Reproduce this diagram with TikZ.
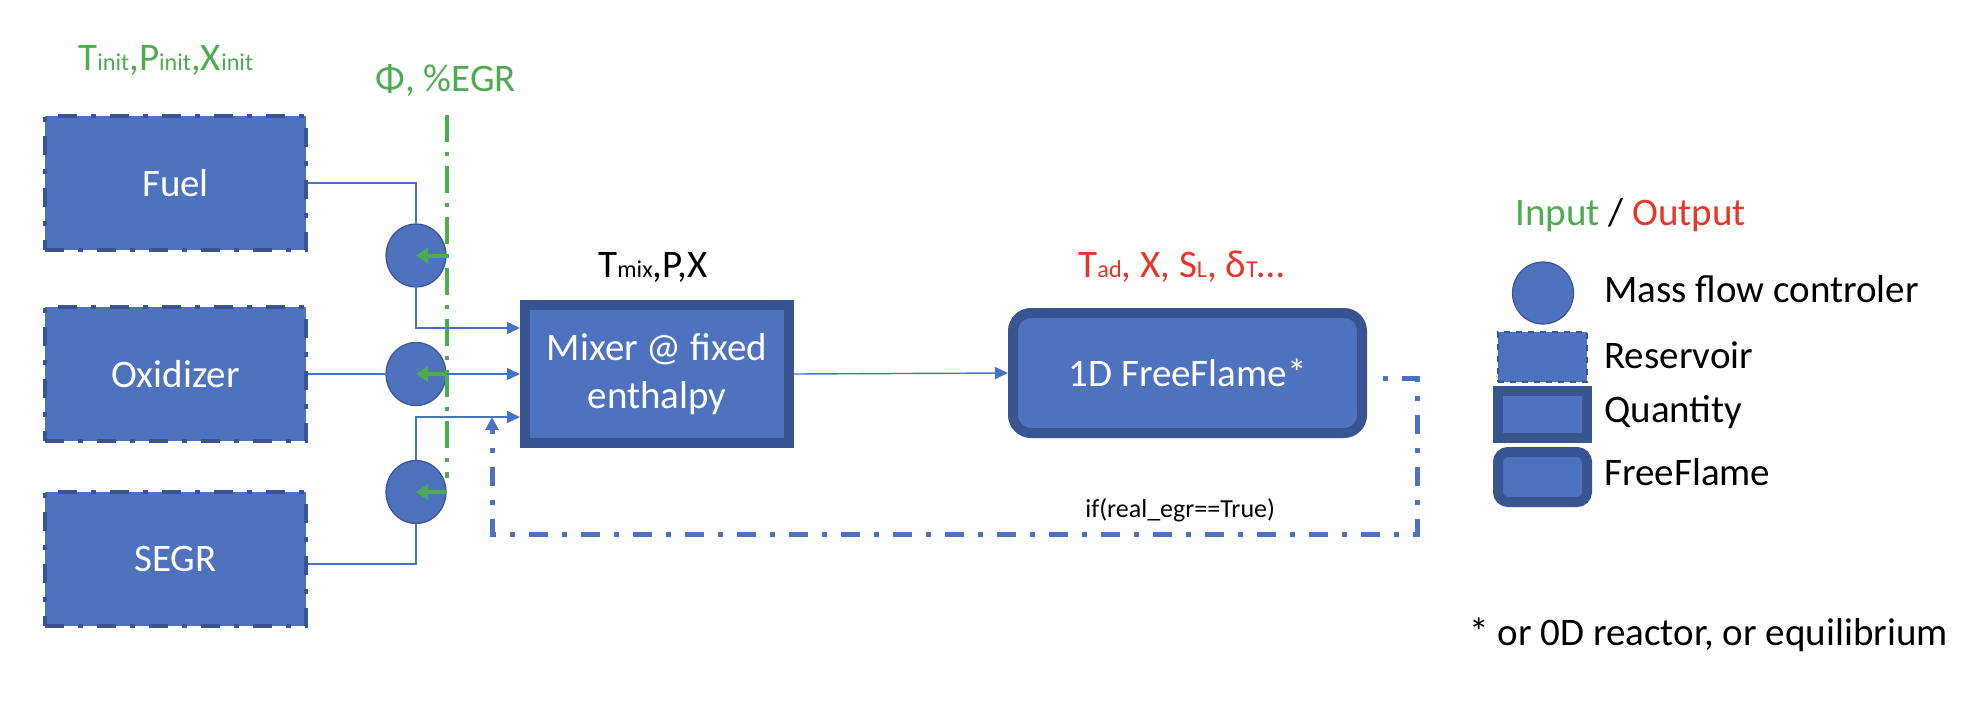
\documentclass[tikz,border=0pt]{standalone}
\usepackage{fontspec}
\setmainfont{Carlito}
\usepackage{graphicx}
\usetikzlibrary{arrows.meta,shapes.geometric}
\definecolor{boxfill}{HTML}{4F72BE}
\definecolor{boxline}{HTML}{385491}
\definecolor{conn}{HTML}{4472C4}
\definecolor{ingreen}{HTML}{4EAC50}
\definecolor{outred}{HTML}{E8352A}
\newcommand{\sbt}[1]{\scalebox{0.62}{#1}}
\begin{document}
\begin{tikzpicture}[x=0.5pt,y=-0.5pt,
  dashdotpat/.style={dash pattern=on 9.5pt off 7pt on 2.5pt off 7pt},
  mainfont/.style={font=\fontsize{19.5}{24}\selectfont},
  reservoir/.style={rectangle, fill=boxfill, draw=boxline, line width=2pt, dashdotpat,
    minimum width=130.5pt, minimum height=67pt, inner sep=0pt, text=white, mainfont},
  quantity/.style={rectangle, fill=boxfill, draw=boxline, line width=5pt,
    minimum width=132pt, minimum height=69pt, inner sep=0pt, text=white, mainfont, align=center},
  flame/.style={rectangle, rounded corners=9pt, fill=boxfill, draw=boxline, line width=5pt,
    minimum width=174.5pt, minimum height=60pt, inner sep=0pt, text=white, mainfont},
  mfc/.style={ellipse, fill=boxfill, draw=boxline, line width=0.6pt,
    minimum width=30pt, minimum height=31.5pt, inner sep=0pt},
  flow/.style={draw=conn, line width=0.7pt},
  flowarrow/.style={flow, -{Triangle[length=6.5pt,width=6pt]}},
  ctrl/.style={draw=ingreen, line width=2pt, -{Triangle[length=6pt,width=7.5pt]}},
  ctrlline/.style={draw=ingreen, line width=2pt, dash pattern=on 13.5pt off 5pt on 2pt off 5pt},
  feedback/.style={draw=boxfill, line width=2.5pt, dashdotpat, dash phase=16.5pt,
    -{Triangle[length=6.5pt,width=6.5pt]}},
  lbl/.style={inner sep=0pt, anchor=base west, mainfont},
]
\useasboundingbox[fill=white] (0,0) rectangle (1968,706);

% reservoirs
\node[reservoir] (fuel) at (175.5,183) {Fuel};
\node[reservoir] (oxid) at (175.5,374) {Oxidizer};
\node[reservoir] (segr) at (175.5,559) {SEGR};

% mass flow controllers
\node[mfc] (c1) at (416,255.5) {};
\node[mfc] (c2) at (416,374) {};
\node[mfc] (c3) at (416,492) {};

% mixer and flame
\node[quantity] (mix) at (657,374) {Mixer @ fixed\\enthalpy};
\node[flame] (ff) at (1187.5,373) {1D FreeFlame*};

% labels
\node[lbl, text=ingreen] (tinit) at (78,71) {T\sbt{init},P\sbt{init},X\sbt{init}};
\node[lbl, text=ingreen] (phi) at (375,91) {Φ, \%EGR};
\node[lbl] (tmix) at (598,277) {T\sbt{mix},P,X};
\node[lbl, text=outred] (tad) at (1078,277) {T\sbt{ad}, X, S\sbt{L}, δ\sbt{T}…};
\node[lbl, font=\fontsize{13}{15}\selectfont] (cond) at (1085,517) {if(real\_egr==True)};

% legend
\node[lbl] (io) at (1515,225) {\textcolor{ingreen}{Input} / \textcolor{outred}{Output}};
\node[mfc, minimum width=30.5pt, minimum height=31pt] (lmfc) at (1543,293) {};
\node[rectangle, fill=boxfill, draw=boxline, line width=0.7pt, dashed,
  minimum width=44.5pt, minimum height=25pt, inner sep=0pt] (lres) at (1542.5,357) {};
\node[quantity, minimum width=44.5pt, minimum height=23.5pt] (lqty) at (1542.5,414.5) {};
\node[flame, minimum width=44.5pt, minimum height=25pt, rounded corners=5pt] (lff) at (1542.5,477) {};
\node[lbl] (tmfc) at (1604,302) {Mass flow controler};
\node[lbl] (tres) at (1604,368) {Reservoir};
\node[lbl] (tqty) at (1604,422) {Quantity};
\node[lbl] (tff) at (1604,485) {FreeFlame};
\node[lbl] (note) at (1469,645) {* or 0D reactor, or equilibrium};

% control line
\coordinate (gtop) at (447,115);
\coordinate (gbot) at (447,478);
\draw[ctrlline] (gtop) -- (gbot);
\draw[ctrl] (c1.east) -- (c1.center);
\draw[ctrl] (c2.east) -- (c2.center);
\draw[ctrl] (c3.east) -- (c3.center);

% flows
\draw[flow] (fuel.east) -| (c1.north);
\draw[flowarrow] (c1.south) |- ([yshift=23pt]mix.west);
\draw[flow] (oxid.east) -- (c2.west);
\draw[flowarrow] (c2.east) -- (mix.west);
\draw[flow] ([yshift=-2.5pt]segr.east) -| (c3.south);
\draw[flowarrow] (c3.north) |- ([yshift=-21.5pt]mix.west);
\draw[flowarrow] (mix.east) -- (ff.west);

% feedback
\coordinate (fbc) at (1417,534);
\draw[feedback] ([xshift=8pt,yshift=-2.5pt]ff.east) -| (fbc) -| ([xshift=-14pt,yshift=-21.5pt]mix.west);
\end{tikzpicture}
\end{document}
